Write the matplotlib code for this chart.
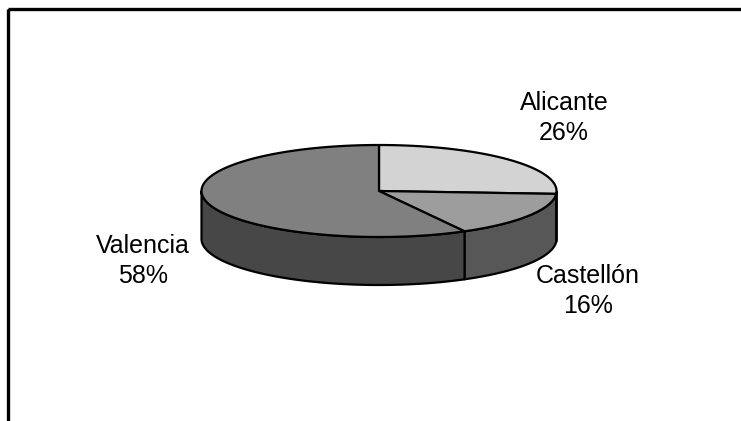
import numpy as np
import matplotlib
matplotlib.use("Agg")
import matplotlib.pyplot as plt
from matplotlib.patches import Polygon, Rectangle

provinces = ["Alicante", "Castellón", "Valencia"]
shares = [26, 16, 58]
top_colors = ["#d3d3d3", "#9d9d9d", "#808080"]
side_colors = ["#6a6a6a", "#575757", "#474747"]
label_pos = [(564, 118), (588, 291), (143, 261)]

plt.rcParams["font.family"] = ["Liberation Sans", "DejaVu Sans"]

fig = plt.figure(figsize=(7.41, 4.21), dpi=100)
ax = fig.add_axes([0, 0, 1, 1])
ax.set_xlim(0, 741)
ax.set_ylim(421, 0)
ax.axis("off")

# chart area border (runs off the right and bottom edges)
ax.add_patch(Rectangle((8, 9), 760, 440, fill=False, lw=2.4, ec="black"))

cx, cy, a, b, depth = 379, 191, 177.5, 46, 48


def rim(t0, t1, n=120):
    t = np.radians(np.linspace(t0, t1, n))
    return cx + a * np.sin(t), cy - b * np.cos(t)


fracs = np.array(shares) / sum(shares)
bounds = np.concatenate([[0], np.cumsum(fracs) * 360])

# visible side walls: the front half of the rim (90..270 deg clockwise from top)
for i in range(len(shares)):
    t0, t1 = max(bounds[i], 90), min(bounds[i + 1], 270)
    if t1 <= t0:
        continue
    x, y = rim(t0, t1)
    pts = np.column_stack([np.r_[x, x[::-1]], np.r_[y, y[::-1] + depth]])
    ax.add_patch(Polygon(pts, closed=True, fc=side_colors[i], ec="black", lw=1.6, joinstyle="round"))

# top face wedges
for i in range(len(shares)):
    x, y = rim(bounds[i], bounds[i + 1])
    pts = np.column_stack([np.r_[cx, x], np.r_[cy, y]])
    ax.add_patch(Polygon(pts, closed=True, fc=top_colors[i], ec="black", lw=1.6, joinstyle="round"))

for name, pct, (lx, ly) in zip(provinces, shares, label_pos):
    ax.text(lx, ly, f"{name}\n{pct}%", ha="center", va="center", fontsize=18,
            linespacing=1.3, color="black")

fig.savefig("out.png", dpi=100)
